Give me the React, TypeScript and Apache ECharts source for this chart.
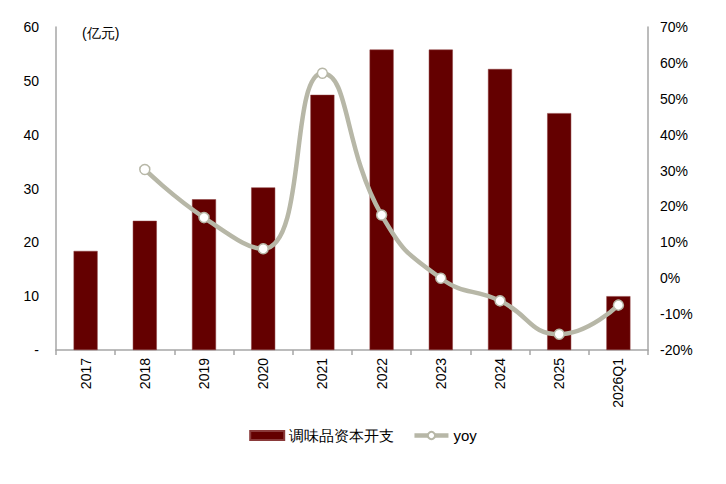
import React, { useEffect, useRef } from "react";
import * as echarts from "echarts";

const categories = ["2017", "2018", "2019", "2020", "2021", "2022", "2023", "2024", "2025", "2026Q1"];
const capex = [18.4, 24.0, 28.0, 30.2, 47.4, 55.8, 55.8, 52.2, 44.0, 10.0];
const yoy = [null, 30.3, 16.9, 8.2, 57.1, 17.6, 0.0, -6.3, -15.6, -7.5];
const barName = "调味品资本开支";
const lineName = "yoy";
const unitLabel = "(亿元)";

const FONT = "'Liberation Sans', Arial, sans-serif";

export default function App() {
  const ref = useRef<HTMLDivElement>(null);
  useEffect(() => {
    if (!ref.current) return;
    const chart = echarts.init(ref.current, null, { renderer: "svg" });
    const axisLine = { show: true, lineStyle: { color: "#a6a6a6", width: 1.5 } };
    chart.setOption({
      animation: false,
      textStyle: { fontFamily: FONT },
      grid: { left: 48, right: 70, top: 19, bottom: 126 },
      legend: {
        bottom: 28,
        left: "center",
        itemGap: 18,
        itemWidth: 34,
        itemHeight: 9,
        textStyle: { fontSize: 15, color: "#000", fontFamily: FONT },
        data: [
          { name: barName, icon: "rect" },
          { name: lineName, lineStyle: { width: 4.5, color: "#b7b7a7" } },
        ],
      },
      graphic: [
        {
          type: "text",
          left: 74,
          top: 18,
          style: { text: unitLabel, fontSize: 14, fill: "#000", fontFamily: FONT },
        },
      ],
      xAxis: {
        type: "category",
        data: categories,
        boundaryGap: true,
        axisLine,
        axisTick: { show: true, alignWithLabel: false, length: 5, lineStyle: { color: "#a6a6a6", width: 1.5 } },
        axisLabel: { rotate: 90, fontSize: 14, color: "#000", margin: 8, fontFamily: FONT },
        splitLine: { show: false },
      },
      yAxis: [
        {
          type: "value",
          min: 0,
          max: 60,
          interval: 10,
          axisLine,
          axisTick: { show: false },
          splitLine: { show: false },
          axisLabel: {
            fontSize: 14,
            color: "#000",
            margin: 17,
            fontFamily: FONT,
            formatter: (v: number) => (v === 0 ? "-" : String(v)),
          },
        },
        {
          type: "value",
          min: -20,
          max: 70,
          interval: 10,
          axisLine,
          axisTick: { show: false },
          splitLine: { show: false },
          axisLabel: {
            fontSize: 14,
            color: "#000",
            margin: 12,
            fontFamily: FONT,
            formatter: (v: number) => `${v}%`,
          },
        },
      ],
      series: [
        {
          name: barName,
          type: "bar",
          data: capex,
          barWidth: 24,
          itemStyle: { color: "#640000", borderColor: "#8a3a3a", borderWidth: 0.5 },
        },
        {
          name: lineName,
          type: "line",
          yAxisIndex: 1,
          data: yoy,
          smooth: 0.5,
          symbol: "circle",
          symbolSize: 10,
          lineStyle: { color: "#b7b7a7", width: 4.5 },
          itemStyle: { color: "#ffffff", borderColor: "#b7b7a7", borderWidth: 1.5 },
          z: 3,
        },
      ],
    });
    return () => chart.dispose();
  }, []);
  return <div ref={ref} style={{ width: 710, height: 468 }} />;
}
